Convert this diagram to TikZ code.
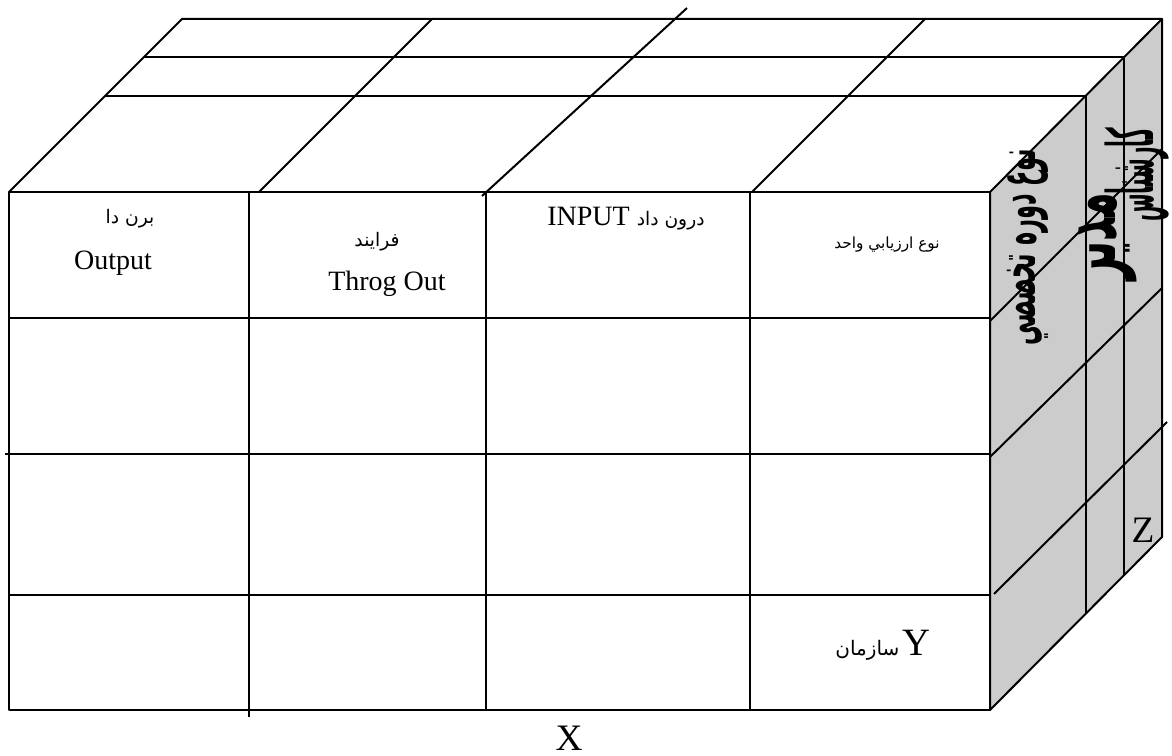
\documentclass[tikz,border=0pt]{standalone}
\usepackage{fontspec}
\setmainfont{Liberation Serif}
\newfontfamily\arabicfont[Script=Arabic]{DejaVu Sans}
\TeXXeTstate=1

\tikzset{
  sideface/.style={fill=black!20},
  entxt/.style={inner sep=0pt,font=\fontsize{21}{24}\selectfont},
  artxt/.style={inner sep=0pt,font=\arabicfont\fontsize{14}{17}\selectfont},
  axistxt/.style={inner sep=0pt,font=\fontsize{28}{32}\selectfont},
  sidetxt/.style={inner sep=0pt,rotate=90,font=\arabicfont\bfseries\fontsize{20}{24}\selectfont}
}

\begin{document}
\begin{tikzpicture}[x=0.75pt,y=-0.75pt,line width=1.5pt,line join=round]
\useasboundingbox (0,0) rectangle (1172,756);

% side face
\filldraw[sideface] (990,192) -- (1162,19) -- (1162,537) -- (990,710) -- cycle;
\draw (1086,96) -- (1086,613);
\draw (1124,57) -- (1124,575);
\draw (990,321) -- (1162,149);
\draw (990,457) -- (1162,288);
\draw (994,594) -- (1167,422);

% top face
\draw (9,192) -- (182,19) -- (1162,19);
\draw (144,57) -- (1124,57);
\draw (105,96) -- (1085,96);
\draw (259,192) -- (432,19);
\draw (482,196) -- (687,8);
\draw (752,192) -- (925,19);

% front face
\draw (9,192) rectangle (990,710);
\draw (9,318) -- (990,318);
\draw (5,454) -- (990,454);
\draw (9,595) -- (990,595);
\draw (249,192) -- (249,717);
\draw (486,192) -- (486,710);
\draw (750,192) -- (750,710);

\node[artxt] (outar) at (130,219) {\beginR برن دا\endR};
\node[entxt] (outen) at (113,263) {Output};
\node[artxt] (procar) at (377,242) {\beginR فرايند\endR};
\node[entxt] (procen) at (387,284) {Throg Out};
\node[entxt] (input) at (626,219) {INPUT {\arabicfont\fontsize{14}{17}\selectfont\beginR درون داد\endR}};
\node[artxt,font=\arabicfont\fontsize{11.5}{14}\selectfont] (unit) at (887,245) {\beginR نوع ارزيابي واحد\endR};
\node[inner sep=0pt] (org) at (883,645) {{\arabicfont\fontsize{15}{18}\selectfont\beginR سازمان\endR}\ {\fontsize{29}{32}\selectfont Y}};

\node[axistxt] (xlab) at (569,738) {X};
\node[axistxt] (zlab) at (1143,530) {Z};

\node[sidetxt] (course) at (1028,247) {\scalebox{0.84}[2.0]{\beginR نوع دوره تخصصي\endR}};
\node[sidetxt,font=\arabicfont\bfseries\fontsize{30}{34}\selectfont] (mgr) at (1108,237) {\scalebox{1.0}[2.2]{\beginR مدير\endR}};
\node[sidetxt] (expert) at (1137,175) {\scalebox{0.75}[2.4]{\beginR كارشناس\endR}};
\end{tikzpicture}
\end{document}
